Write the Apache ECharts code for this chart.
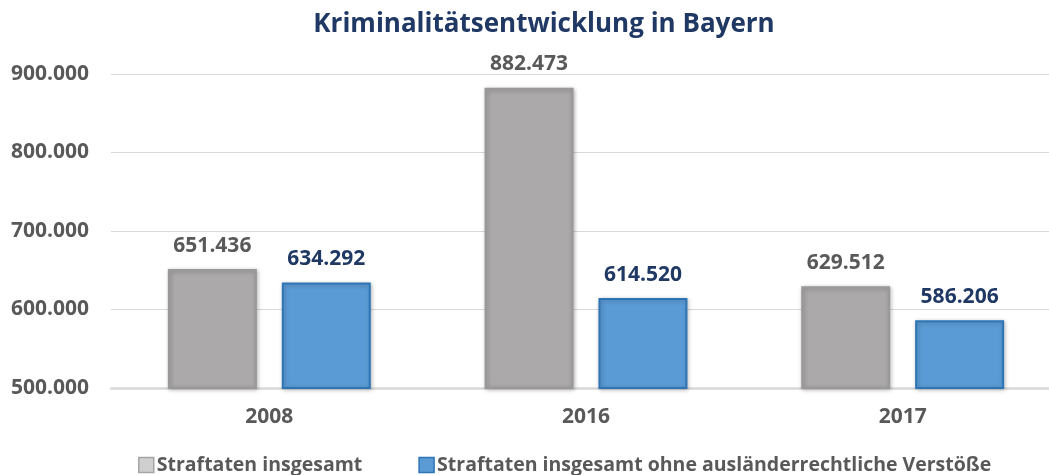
<!DOCTYPE html>
<html>
<head>
<meta charset="utf-8">
<script src="https://cdn.jsdelivr.net/npm/echarts@6/dist/echarts.min.js"></script>
<style>
  html, body { margin: 0; padding: 0; background: #fff; overflow: hidden; }
  /* the original plot runs past the right edge, so the canvas is wider than the window */
  #chart { width: 1075px; height: 475px; }
</style>
</head>
<body>
<div id="chart"></div>
<script>
const years = ['2008', '2016', '2017']
const totalCrimes = [651436, 882473, 629512]
const withoutForeignLaw = [634292, 614520, 586206]
const seriesNames = ['Straftaten insgesamt', 'Straftaten insgesamt ohne ausländerrechtliche Verstöße']

// 651436 -> "651.436"
function fmt(v) {
  return String(Math.round(v)).replace(/\B(?=(\d{3})+(?!\d))/g, '.')
}

const font = '"Open Sans", sans-serif'
const chart = echarts.init(document.getElementById('chart'))

chart.setOption({
  animation: false,
  textStyle: { fontFamily: font },
  title: {
    text: 'Kriminalitätsentwicklung in Bayern',
    left: 539,
    top: 7,
    textAlign: 'center',
    textStyle: {
      fontFamily: font,
      fontSize: 26,
      fontWeight: 'bold',
      color: '#1F3864'
    }
  },
  legend: {
    data: [
      { name: seriesNames[0], itemStyle: { color: '#D0CFCF', borderColor: '#A5A5A5', borderWidth: 1.5 } },
      { name: seriesNames[1], itemStyle: { color: '#5B9BD5', borderColor: '#2E75B6', borderWidth: 1.5 } }
    ],
    left: 133,
    top: 450,
    itemWidth: 15,
    itemHeight: 15,
    itemGap: 56,
    icon: 'rect',
    textStyle: {
      fontFamily: font,
      fontSize: 19.5,
      fontWeight: 'bold',
      color: '#595959',
      padding: [0, 0, 0, -2]
    }
  },
  grid: {
    left: 111,
    width: 950,
    top: 74,
    bottom: 87,
    containLabel: false
  },
  xAxis: {
    type: 'category',
    data: years,
    axisTick: { show: false },
    axisLine: { lineStyle: { color: '#D9D9D9', width: 2.5 } },
    axisLabel: {
      margin: 19,
      fontFamily: font,
      fontSize: 21,
      fontWeight: 'bold',
      color: '#595959'
    }
  },
  yAxis: {
    type: 'value',
    min: 500000,
    max: 900000,
    interval: 100000,
    axisLine: { show: false },
    axisTick: { show: false },
    splitLine: { lineStyle: { color: '#D9D9D9', width: 1 } },
    axisLabel: {
      margin: 22,
      fontFamily: font,
      fontSize: 21,
      fontWeight: 'bold',
      color: '#595959',
      formatter: fmt
    }
  },
  series: [
    {
      name: seriesNames[0],
      type: 'bar',
      data: totalCrimes,
      barWidth: 89,
      barGap: '28%',
      itemStyle: {
        color: '#ABA9AA',
        borderColor: '#9A9899',
        borderWidth: 2,
        shadowBlur: 4,
        shadowColor: 'rgba(0,0,0,0.25)',
        shadowOffsetX: 1,
        shadowOffsetY: 1
      },
      label: {
        show: true,
        position: 'top',
        distance: 13,
        fontFamily: font,
        fontSize: 21,
        fontWeight: 'bold',
        color: '#595959',
        formatter: p => fmt(p.value)
      }
    },
    {
      name: seriesNames[1],
      type: 'bar',
      data: withoutForeignLaw,
      barWidth: 89,
      itemStyle: {
        color: '#5B9BD5',
        borderColor: '#2E75B6',
        borderWidth: 2,
        shadowBlur: 4,
        shadowColor: 'rgba(0,0,0,0.25)',
        shadowOffsetX: 1,
        shadowOffsetY: 1
      },
      label: {
        show: true,
        position: 'top',
        distance: 13,
        fontFamily: font,
        fontSize: 21,
        fontWeight: 'bold',
        color: '#1F3864',
        formatter: p => fmt(p.value)
      }
    }
  ]
})
</script>
</body>
</html>
